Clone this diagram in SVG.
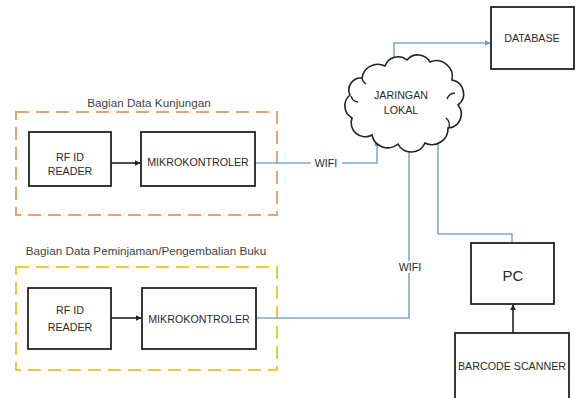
<svg xmlns="http://www.w3.org/2000/svg" width="576" height="398" viewBox="0 0 576 398">
<defs>
<style>
.box{fill:#fff;stroke:#222;stroke-width:1.8}
.t{font-family:"Liberation Sans",Arial,sans-serif;font-size:10.7px;fill:#2a2a2a;text-anchor:middle;dominant-baseline:central}
.lbl{font-family:"Liberation Sans",Arial,sans-serif;font-size:11.7px;fill:#444}
.blue{fill:none;stroke:#7fa9d2;stroke-width:1.6}
.blk{fill:none;stroke:#222;stroke-width:1.6}
</style>
<marker id="ab" viewBox="0 0 10 10" refX="9" refY="5" markerWidth="6" markerHeight="6" markerUnits="userSpaceOnUse" orient="auto"><path d="M0,0L10,5L0,10z" fill="#6d9ccb"/></marker>
<marker id="ak" viewBox="0 0 10 10" refX="9" refY="5" markerWidth="6" markerHeight="6" markerUnits="userSpaceOnUse" orient="auto"><path d="M0,0L10,5L0,10z" fill="#222"/></marker>
</defs>
<rect width="576" height="398" fill="#fff"/>

<g id="group-kunjungan">
<rect x="16" y="112" width="261" height="103" fill="none" stroke="#e8a46f" stroke-width="2" stroke-dasharray="13,7"/>
<text class="lbl" x="149" y="107" text-anchor="middle">Bagian Data Kunjungan</text>
</g>
<g id="group-peminjaman">
<rect x="16" y="267" width="261" height="103" fill="none" stroke="#efc83a" stroke-width="2" stroke-dasharray="13,7"/>
<text class="lbl" x="146" y="255" text-anchor="middle">Bagian Data Peminjaman/Pengembalian Buku</text>
</g>

<g id="connectors">
<path class="blk" d="M111,163H140" marker-end="url(#ak)"/>
<path class="blk" d="M111,318H141" marker-end="url(#ak)"/>
<path class="blk" d="M513,333V305" marker-end="url(#ak)"/>
<path class="blue" d="M255,163H377V141" marker-end="url(#ab)"/>
<path class="blue" d="M256,318H409V146" marker-end="url(#ab)"/>
<path class="blue" d="M512,243V234H438V134" marker-end="url(#ab)"/>
<path class="blue" d="M394,63V43H490" marker-end="url(#ab)"/>
<rect x="311" y="157" width="31" height="12" fill="#fff"/>
<text class="t" x="326" y="163">WIFI</text>
<rect x="395" y="261" width="30" height="12" fill="#fff"/>
<text class="t" x="410" y="267">WIFI</text>
</g>

<g id="rfid1"><rect class="box" x="29" y="132" width="82" height="54"/><text class="t" x="70" y="157">RF ID</text><text class="t" x="70" y="171">READER</text></g>
<g id="mikro1"><rect class="box" x="141" y="132" width="114" height="54"/><text class="t" x="198" y="162">MIKROKONTROLER</text></g>
<g id="rfid2"><rect class="box" x="28" y="288" width="83" height="61"/><text class="t" x="70" y="310">RF ID</text><text class="t" x="70" y="327">READER</text></g>
<g id="mikro2"><rect class="box" x="142" y="288" width="114" height="61"/><text class="t" x="199" y="319">MIKROKONTROLER</text></g>

<g id="cloud">
<path fill="#fff" stroke="#222" stroke-width="1.6" d="M362,78 A16,16 0 0 1 385,66 A14,14 0 0 1 407,60 A14,14 0 0 1 430,62 A16,16 0 0 1 452,80 A14,14 0 0 1 458,105 A14,14 0 0 1 448,128 A16,16 0 0 1 425,143 A15,15 0 0 1 398,144 A16,16 0 0 1 372,135 A14,14 0 0 1 352,118 A14,14 0 0 1 350,95 A12,12 0 0 1 362,78 Z"/>
<path fill="none" stroke="#222" stroke-width="1.3" d="M351,96 A8,8 0 0 0 358,102 M449,128 A10,10 0 0 0 446,118 M455,93 A9,9 0 0 0 447,99 M362,78 A8,8 0 0 0 366,84"/>
<text class="t" x="401" y="95">JARINGAN</text><text class="t" x="401" y="110">LOKAL</text>
</g>

<g id="database"><rect class="box" x="491" y="7" width="83" height="62"/><text class="t" x="532" y="38">DATABASE</text></g>
<g id="pc"><rect class="box" x="471" y="243" width="83" height="61"/><text class="t" x="513" y="275" style="font-size:15px">PC</text></g>
<g id="barcode"><rect class="box" x="455" y="333" width="114" height="70"/><text class="t" x="512" y="366">BARCODE SCANNER</text></g>
</svg>
